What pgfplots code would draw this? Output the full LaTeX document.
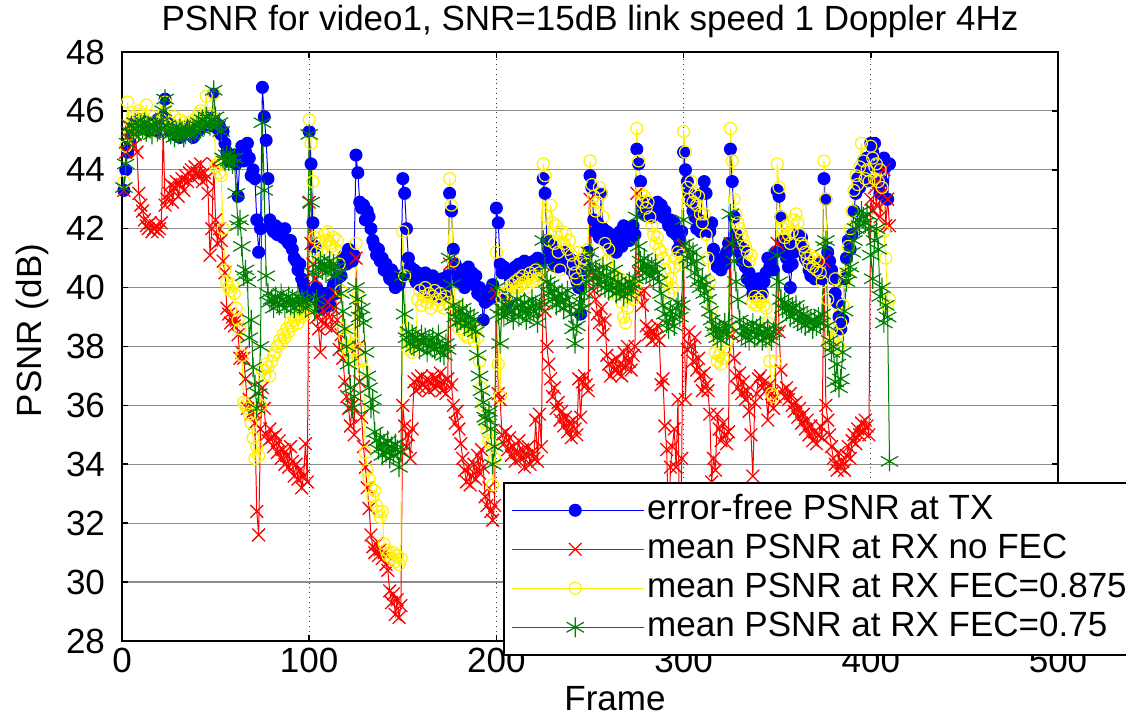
\documentclass[border=0pt]{standalone}
\usepackage{fontspec}
\setmainfont{Liberation Sans}
\usepackage{pgfplots}
\usepackage{pgfplotstable}
\pgfplotsset{compat=1.18}
\definecolor{mgreen}{rgb}{0,0.5,0}
\newcommand{\ff}{\fontsize{17.5}{21}\selectfont}
\pgfplotstableread{
f b r y g
1 43.3 43.3 43.6 43.4
2 44.0 44.6 44.8 44.2
3 44.6 45.5 46.3 44.9
4 45.0 45.0 45.2 45.3
5 45.4 45.4 45.6 45.5
6 45.3 44.8 45.8 45.2
7 45.6 45.2 45.3 45.6
8 45.5 44.6 45.9 45.4
9 45.4 43.2 46.0 45.3
10 45.7 42.8 45.4 45.5
11 45.5 42.6 45.7 45.4
12 45.4 42.3 45.5 45.6
13 45.6 42.1 46.2 45.3
14 45.3 42.0 45.3 45.5
15 45.5 42.2 45.6 45.4
16 45.6 41.9 45.4 45.2
17 45.4 42.0 45.8 45.5
18 45.5 42.1 45.5 45.6
19 45.7 41.9 45.3 45.3
20 45.3 42.0 45.6 45.4
21 45.5 42.2 45.7 45.6
22 45.8 45.4 45.9 46.0
23 46.4 42.8 46.3 46.4
24 45.6 43.0 45.5 45.5
25 45.4 43.2 45.3 45.3
26 45.3 43.5 45.6 45.2
27 45.5 42.9 45.4 45.4
28 45.2 43.4 45.8 45.1
29 45.4 43.6 45.5 45.3
30 45.3 43.1 45.3 45.2
31 45.1 43.5 45.7 45.4
32 45.4 43.7 45.4 45.3
33 45.2 43.3 45.6 45.1
34 45.3 43.8 45.5 45.2
35 45.5 43.6 45.3 45.4
36 45.2 43.9 45.6 45.3
37 45.3 44.0 45.4 45.2
38 45.1 43.7 45.7 45.4
39 45.4 44.1 45.5 45.3
40 45.3 43.9 45.6 45.5
41 45.5 43.8 45.9 45.6
42 45.4 44.2 46.0 45.4
43 45.6 43.6 45.7 45.7
44 45.5 43.9 45.8 45.5
45 45.8 43.7 46.5 45.8
46 45.6 43.2 45.9 45.6
47 45.7 41.1 45.6 45.5
48 45.5 42.0 45.8 45.7
49 46.6 44.2 46.6 46.7
50 45.6 42.3 44.1 45.8
51 45.4 41.5 44.2 45.5
52 45.5 42.0 43.9 45.6
53 45.2 41.6 43.8 45.3
54 45.3 40.9 42.0 44.4
55 44.9 40.5 40.6 44.3
56 44.6 39.3 40.2 44.5
57 44.3 39.1 40.0 44.3
58 44.4 38.8 39.9 44.4
59 44.3 39.0 40.1 44.2
60 44.5 38.7 39.8 44.4
61 44.2 38.9 39.3 43.2
62 43.1 38.4 38.9 42.1
63 44.5 37.6 38.6 42.3
64 44.8 37.8 37.7 41.4
65 44.3 37.6 36.1 40.4
66 44.6 36.9 36.0 40.6
67 44.9 35.9 35.9 40.2
68 44.4 36.2 35.7 38.3
69 43.8 35.7 35.4 38.9
70 44.0 35.8 34.9 37.3
71 43.7 35.4 34.2 36.7
72 42.3 32.4 34.6 35.9
73 41.2 31.6 34.3 36.4
74 42.0 35.2 36.0 38.0
75 46.8 36.6 37.2 45.6
76 45.8 35.9 37.0 43.3
77 45.0 35.0 37.4 40.4
78 43.7 34.8 37.3 39.8
79 42.3 35.2 37.0 39.5
80 42.0 34.9 37.5 39.6
81 41.9 34.6 37.7 39.3
82 42.1 35.0 37.8 39.7
83 41.8 34.4 38.0 39.5
84 42.0 34.8 38.2 39.4
85 41.9 34.2 38.1 39.8
86 41.7 34.5 38.4 39.6
87 42.0 34.0 38.3 39.3
88 41.6 34.3 38.6 39.5
89 41.5 33.9 38.5 39.7
90 41.6 34.6 38.8 39.4
91 41.3 34.1 38.7 39.6
92 41.0 33.6 38.9 39.3
93 40.9 34.0 39.0 39.5
94 40.6 33.5 38.8 39.7
95 40.8 33.8 39.1 39.4
96 40.3 33.2 39.0 39.6
97 40.1 33.6 39.2 39.5
98 39.9 34.7 39.1 39.3
99 39.7 33.4 39.3 39.6
100 45.3 42.9 45.7 45.2
101 44.2 41.5 44.9 42.9
102 42.2 40.8 43.6 40.5
103 41.4 40.3 41.7 39.2
104 40.0 39.0 41.2 39.6
105 39.4 38.6 40.9 40.7
106 39.6 37.8 41.5 40.9
107 39.3 38.9 41.3 40.6
108 39.8 39.2 41.8 40.8
109 39.5 38.7 41.6 40.5
110 39.7 39.5 41.9 40.7
111 39.4 39.0 41.5 40.9
112 39.9 38.6 41.4 40.6
113 40.1 39.3 41.7 40.8
114 39.8 39.8 41.3 40.4
115 40.3 38.9 41.6 40.7
116 40.6 37.9 40.8 40.5
117 40.4 38.4 39.9 39.8
118 41.0 37.6 38.6 39.2
119 41.1 36.8 38.3 38.6
120 40.8 36.3 38.0 38.0
121 41.3 35.9 37.8 37.4
122 41.2 35.3 38.4 36.6
123 40.9 36.0 37.5 35.9
124 41.1 35.0 38.1 36.3
125 44.5 41.0 41.5 40.0
126 43.9 38.0 39.7 39.6
127 42.9 36.8 37.9 39.0
128 42.7 35.6 37.5 39.3
129 42.8 34.6 37.2 38.8
130 42.3 33.9 34.4 37.8
131 42.6 33.2 33.8 37.0
132 42.4 32.5 33.5 36.6
133 42.0 31.6 33.2 35.9
134 41.6 31.2 32.9 36.2
135 41.4 31.0 33.1 35.1
136 41.1 31.3 32.6 34.8
137 41.3 30.9 32.4 34.5
138 40.9 31.1 32.2 34.9
139 41.0 30.8 32.4 34.3
140 40.6 31.0 31.3 34.7
141 40.8 30.6 31.1 34.4
142 40.5 30.4 30.9 34.8
143 40.3 29.7 31.0 34.2
144 40.6 29.3 30.8 34.6
145 40.2 29.6 31.0 34.3
146 40.0 28.9 30.7 34.7
147 40.4 29.4 30.9 34.5
148 40.1 28.8 30.6 33.9
149 40.3 29.2 30.8 34.4
150 43.7 36.0 41.9 40.4
151 43.2 35.3 40.4 39.1
152 42.0 34.6 38.6 38.3
153 41.0 35.0 37.9 38.5
154 40.7 34.2 38.1 38.1
155 40.4 35.2 37.8 38.4
156 40.6 36.8 38.0 38.0
157 40.2 36.5 38.3 38.3
158 40.5 36.9 39.6 38.2
159 40.1 36.6 39.9 37.9
160 40.3 37.0 39.4 38.4
161 40.0 36.7 39.7 38.1
162 40.5 36.6 40.0 38.3
163 40.2 36.9 39.5 37.8
164 39.8 36.5 39.8 38.2
165 40.1 36.8 39.3 38.0
166 40.4 37.0 39.7 38.3
167 39.9 36.6 39.9 37.9
168 40.2 36.9 39.6 38.1
169 39.7 36.7 39.4 38.4
170 40.0 37.1 39.8 37.8
171 40.3 36.5 39.6 38.0
172 39.8 36.8 39.3 37.7
173 40.1 36.4 39.7 38.1
174 40.4 36.9 39.5 37.9
175 43.2 40.8 43.7 41.0
176 42.6 36.7 42.8 40.1
177 41.3 36.0 40.9 39.4
178 40.8 35.4 39.4 39.0
179 40.5 35.8 39.0 38.8
180 40.2 35.2 38.6 39.2
181 40.6 34.7 39.2 38.9
182 40.3 34.2 38.8 39.3
183 40.0 33.8 38.4 38.7
184 40.4 33.4 38.9 39.1
185 40.7 33.9 38.3 38.8
186 40.2 33.3 38.7 39.0
187 40.5 33.6 38.5 38.6
188 40.1 34.0 38.2 38.9
189 40.4 33.5 38.6 38.5
190 39.8 34.3 38.3 37.7
191 40.0 33.7 37.5 37.0
192 39.7 34.5 36.6 36.5
193 38.9 33.9 36.0 36.1
194 39.5 32.9 35.4 35.6
195 39.8 32.6 35.1 35.5
196 39.6 33.2 34.8 35.8
197 39.9 32.4 34.7 35.2
198 40.1 32.1 33.3 34.0
199 39.7 32.6 34.2 34.6
200 42.7 39.8 41.2 40.0
201 42.2 36.4 37.4 39.1
202 40.8 36.2 36.3 38.1
203 40.5 35.0 39.6 39.3
204 40.7 34.7 39.8 39.0
205 39.7 35.1 39.7 39.4
206 39.5 34.5 40.0 39.1
207 40.4 34.9 39.9 39.5
208 40.6 34.3 40.1 39.2
209 40.3 34.6 39.8 38.9
210 40.7 34.1 40.2 39.3
211 40.5 34.4 40.0 39.6
212 40.8 34.8 40.3 39.0
213 40.4 34.2 40.1 39.4
214 40.6 34.5 40.4 39.2
215 40.9 33.9 40.2 39.5
216 40.5 34.3 40.0 38.9
217 40.7 34.6 40.3 39.3
218 40.8 34.0 40.5 39.1
219 40.6 34.4 40.2 39.6
220 40.9 34.2 40.4 39.2
221 40.7 35.5 40.6 39.4
222 41.0 34.1 40.3 38.8
223 40.8 35.7 40.5 39.3
224 40.9 34.6 40.4 39.5
225 43.7 40.4 44.2 41.6
226 43.2 39.2 43.8 40.7
227 41.6 38.0 42.4 40.2
228 41.3 37.4 41.6 39.8
229 41.0 36.9 42.8 40.1
230 41.4 36.3 42.2 39.6
231 40.8 36.6 41.5 39.9
232 41.1 35.9 42.1 39.4
233 40.7 36.1 41.2 39.7
234 41.0 35.5 40.6 39.5
235 40.8 35.8 41.9 39.8
236 41.2 35.3 41.5 39.3
237 40.9 35.6 41.8 39.6
238 40.7 35.1 41.3 39.9
239 41.0 35.4 41.6 39.4
240 40.6 34.9 41.1 39.1
241 40.9 35.5 40.8 38.6
242 40.4 35.2 40.5 38.1
243 40.2 35.0 40.3 38.7
244 40.0 36.9 41.2 39.2
245 39.1 35.6 40.9 39.5
246 40.5 36.8 40.6 39.3
247 41.0 37.0 41.0 39.8
248 40.7 36.7 40.8 40.2
249 41.2 36.5 41.3 40.6
250 43.8 43.0 44.3 41.2
251 43.4 40.5 43.5 40.8
252 42.3 39.9 43.1 40.3
253 41.9 39.6 42.6 40.6
254 42.2 39.1 42.9 40.1
255 41.7 38.8 43.4 40.5
256 43.2 39.3 43.2 40.2
257 42.0 38.4 42.4 40.7
258 41.6 38.9 41.5 40.0
259 41.9 37.7 40.9 40.4
260 41.5 37.4 41.3 39.9
261 41.8 37.0 40.6 40.3
262 41.3 37.5 40.2 40.0
263 41.7 37.2 39.8 40.6
264 41.2 37.6 40.4 39.8
265 41.5 37.1 39.9 40.2
266 41.9 37.4 40.3 39.9
267 41.4 37.0 39.5 40.1
268 42.1 37.8 39.0 39.7
269 41.7 37.3 38.8 40.0
270 42.0 38.0 39.3 39.8
271 41.6 37.5 39.7 40.2
272 41.9 37.2 40.1 39.9
273 42.1 37.7 39.6 40.1
274 41.8 38.0 40.0 40.3
275 44.7 43.2 45.4 42.4
276 44.2 40.5 44.3 41.4
277 43.6 39.8 43.2 40.9
278 42.8 39.4 42.9 40.6
279 42.5 39.9 43.1 41.0
280 42.9 38.7 42.7 40.5
281 42.6 38.4 42.9 40.8
282 42.8 38.6 42.4 40.4
283 42.4 38.2 42.1 40.7
284 42.7 38.5 41.8 40.3
285 42.5 38.3 41.5 40.8
286 42.9 38.7 41.7 40.5
287 42.6 38.2 41.3 40.2
288 42.8 36.7 41.2 39.8
289 42.4 36.9 41.0 39.4
290 42.6 35.3 40.6 39.1
291 42.3 34.5 40.2 38.8
292 42.1 31.5 39.8 38.6
293 42.3 33.9 40.3 39.2
294 41.9 34.6 40.0 39.0
295 42.2 35.2 40.7 38.7
296 41.8 33.9 41.0 39.3
297 41.3 36.2 41.2 39.5
298 41.6 31.0 40.8 39.0
299 41.9 34.2 41.1 39.4
300 44.6 41.4 45.3 42.3
301 44.0 36.2 44.6 41.5
302 43.6 37.9 43.4 41.0
303 43.2 38.5 43.0 41.3
304 42.9 38.0 43.6 40.8
305 42.6 37.5 42.9 41.2
306 42.4 38.3 43.2 40.5
307 42.0 37.2 42.8 40.9
308 42.3 37.6 43.1 40.2
309 41.9 37.0 42.5 40.0
310 43.2 36.5 42.2 40.3
311 43.6 37.1 42.5 39.8
312 43.2 36.7 41.8 40.1
313 42.1 36.5 41.0 39.6
314 41.9 35.7 40.2 39.2
315 42.2 33.4 39.3 38.9
316 41.3 34.2 38.5 38.5
317 41.0 33.8 37.8 38.7
318 40.7 35.7 37.5 38.3
319 40.9 35.2 37.7 38.6
320 40.6 34.8 37.4 38.2
321 41.0 35.4 37.6 38.5
322 40.8 35.0 37.9 38.8
323 41.2 34.7 38.2 38.4
324 41.5 35.1 38.6 38.7
325 44.7 41.5 45.4 42.5
326 43.6 38.4 44.3 41.5
327 42.4 37.6 43.0 40.9
328 41.8 37.0 42.5 40.2
329 41.5 36.6 42.2 39.6
330 41.2 37.1 42.0 38.9
331 40.9 36.4 41.8 38.4
332 41.3 36.8 41.6 38.7
333 40.7 36.2 41.4 38.3
334 40.3 36.5 41.2 38.6
335 40.5 35.8 40.9 38.2
336 40.1 35.0 41.1 38.5
337 39.8 33.6 39.5 38.8
338 40.2 36.1 39.7 38.3
339 39.9 36.4 39.4 38.6
340 40.3 36.9 39.6 38.4
341 40.0 37.0 39.5 38.7
342 39.8 36.6 39.7 38.2
343 40.2 36.8 39.4 38.5
344 40.5 36.5 39.3 38.3
345 41.0 35.5 38.8 38.6
346 40.7 36.7 37.5 38.4
347 40.9 36.4 36.4 38.2
348 40.6 35.9 36.3 38.5
349 41.2 36.3 37.5 38.7
350 43.3 41.5 44.2 41.1
351 43.1 38.5 43.4 40.2
352 42.4 37.2 42.4 39.6
353 41.6 36.5 42.0 39.3
354 41.3 36.3 41.7 39.5
355 41.0 36.6 42.1 39.2
356 40.7 36.2 41.8 39.4
357 40.0 36.4 41.5 39.0
358 40.8 36.0 41.9 39.3
359 41.2 35.8 42.3 39.1
360 41.5 36.1 42.5 39.4
361 41.8 35.6 42.2 38.9
362 41.4 35.9 41.8 39.2
363 41.7 35.4 41.5 38.8
364 41.3 35.7 41.4 39.1
365 41.0 35.2 41.2 38.7
366 40.9 35.5 41.0 39.0
367 40.6 35.0 40.8 38.8
368 40.4 35.3 41.1 38.9
369 40.7 34.8 40.7 38.6
370 40.3 35.1 41.0 38.9
371 40.6 34.7 40.6 38.7
372 40.8 35.0 40.9 39.0
373 40.5 35.3 40.5 38.8
374 40.3 34.9 40.2 39.1
375 43.7 40.9 44.3 41.4
376 43.0 36.0 43.0 41.6
377 41.2 35.5 39.6 38.7
378 40.9 35.0 38.1 38.2
379 40.6 34.6 38.6 37.8
380 40.3 34.2 38.2 38.0
381 39.8 34.0 40.3 36.8
382 39.5 33.8 38.4 37.4
383 39.0 34.4 38.0 36.6
384 38.6 33.9 38.8 36.9
385 38.9 34.1 39.4 37.8
386 40.3 33.8 40.2 39.2
387 41.0 34.3 40.5 40.2
388 41.6 34.6 41.4 40.5
389 41.3 34.2 42.0 40.7
390 41.8 34.8 42.6 41.2
391 42.6 35.0 43.3 41.6
392 43.2 34.7 43.8 42.0
393 43.7 35.2 43.5 42.3
394 43.4 35.0 44.1 42.1
395 44.0 35.4 44.9 42.6
396 44.3 35.1 44.3 42.4
397 43.8 35.5 43.7 42.2
398 44.4 35.3 44.0 42.5
399 43.6 35.0 43.6 42.0
400 44.9 43.0 44.8 41.1
401 44.6 42.6 44.4 40.3
402 44.9 43.4 43.7 41.6
403 44.1 42.8 44.2 42.0
404 43.5 43.6 43.6 41.3
405 43.2 42.4 44.0 39.7
406 43.6 43.2 43.4 40.0
407 44.4 44.0 41.9 38.8
408 44.1 42.1 41.0 39.4
409 43.0 43.0 39.4 39.0
410 44.2 42.1 39.6 34.1
}\datatable
\begin{document}
\begin{tikzpicture}
\begin{axis}[
  scale only axis, width=468pt, height=294.5pt,
  xmin=0, xmax=500, ymin=28, ymax=48,
  xtick={0,100,...,500}, ytick={28,30,...,48},
  tick align=inside, major tick length=3pt,
  tick style={black, line width=0.8pt},
  axis line style={black, line width=0.7pt},
  xmajorgrids, ymajorgrids,
  x grid style={black!80, dotted, line width=0.6pt},
  y grid style={black!45, line width=0.6pt},
  /pgf/number format/assume math mode=true,
  ticklabel style={font=\ff},
  yticklabel style={xshift=-5pt},
  label style={font=\ff},
  title style={font=\ff, yshift=-2.5pt},
  title={PSNR for video1, SNR=15dB link speed 1 Doppler 4Hz},
  xlabel={Frame}, ylabel={PSNR (dB)},
  xlabel style={at={([xshift=12.5pt]axis description cs:0.5,0)}, anchor=north, yshift=-19pt},
  ylabel style={at={([xshift=-56.7pt,yshift=8pt]axis description cs:0,0.5)}, anchor=north},
  legend style={at={(rel axis cs:0.407,0.270)}, anchor=north west, draw=black, line width=0.8pt, fill=white, font=\ff, inner sep=4pt,
    nodes={inner sep=1.25pt, text height=13pt, text depth=4pt}},
  legend cell align=left,
  legend image code/.code={\draw[mark repeat=2,mark phase=2,#1] plot coordinates {(4pt,0pt) (31.5pt,0pt) (59pt,0pt)}; \path (0pt,0pt) -- (66pt,0pt);},
  every axis plot/.append style={line width=0.5pt},
]
\addplot[blue, mark=*, mark size=3pt, mark options={solid}] table[x=f, y=b] {\datatable};
\addlegendentry{error-free PSNR at TX}
\addplot[red, mark=x, mark size=4.5pt, mark options={solid, line width=0.65pt}] table[x=f, y=r] {\datatable};
\addlegendentry{mean PSNR at RX no FEC}
\addplot[yellow, mark=o, mark size=3pt, mark options={solid, line width=0.6pt}] table[x=f, y=y] {\datatable};
\addlegendentry{mean PSNR at RX FEC=0.875}
\addplot[mgreen, mark=asterisk, mark size=5pt, mark options={solid, line width=0.6pt}] table[x=f, y=g] {\datatable};
\addlegendentry{mean PSNR at RX FEC=0.75}
\end{axis}
\pgfresetboundingbox
\path[use as bounding box] (-61pt,-37.5pt) rectangle (502pt,320.5pt);
\end{tikzpicture}
\end{document}
